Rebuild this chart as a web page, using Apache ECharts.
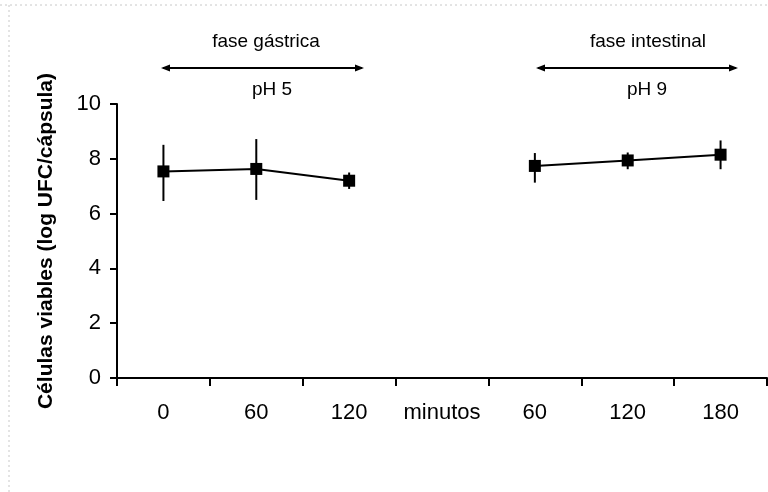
<!DOCTYPE html>
<html>
<head>
<meta charset="utf-8">
<script src="https://cdn.jsdelivr.net/npm/echarts@6/dist/echarts.min.js"></script>
<style>
  html, body { margin: 0; padding: 0; background: #fff; }
  #chart { width: 768px; height: 492px; }
</style>
</head>
<body>
<div id="chart"></div>
<script>
// Viable cells during simulated gastric / intestinal phase.
// Category "minutos" is a spacer between the two phases (no data).
const categories = ["0", "60", "120", "minutos", "60", "120", "180"];
const means  = [7.54, 7.63, 7.2, "-", 7.74, 7.94, 8.15];
const lows   = [6.46, 6.5, 6.9, null, 7.13, 7.62, 7.62];
const highs  = [8.51, 8.72, 7.5, null, 8.21, 8.23, 8.67];
const phaseTitles = ["fase gástrica", "fase intestinal"];
const phasePH = ["pH 5", "pH 9"];

const FONT = "Liberation Sans, Arial, sans-serif";

const errData = [];
lows.forEach((lo, i) => { if (lo != null) errData.push([i, lo, highs[i]]); });

const chart = echarts.init(document.getElementById("chart"));

// phase annotations (arrow + labels) above the plot, pixel-placed
const phases = [
  { x1: 161, x2: 364, cx: 266, px: 272 },
  { x1: 536, x2: 738, cx: 648, px: 647 },
];
const arrowY = 68;
const graphics = [];
phases.forEach((p, k) => {
  graphics.push({ type: "line", silent: true,
    shape: { x1: p.x1 + 2, y1: arrowY, x2: p.x2 - 2, y2: arrowY },
    style: { stroke: "#000", lineWidth: 2 } });
  graphics.push({ type: "polygon", silent: true,
    shape: { points: [[p.x1, arrowY], [p.x1 + 9, arrowY - 3.5], [p.x1 + 9, arrowY + 3.5]] },
    style: { fill: "#000" } });
  graphics.push({ type: "polygon", silent: true,
    shape: { points: [[p.x2, arrowY], [p.x2 - 9, arrowY - 3.5], [p.x2 - 9, arrowY + 3.5]] },
    style: { fill: "#000" } });
  graphics.push({ type: "text", silent: true, x: p.cx, y: 42,
    style: { text: phaseTitles[k], font: "19px " + FONT, fill: "#000", align: "center", verticalAlign: "middle" } });
  graphics.push({ type: "text", silent: true, x: p.px, y: 90,
    style: { text: phasePH[k], font: "19px " + FONT, fill: "#000", align: "center", verticalAlign: "middle" } });
});
// faint scan border (top / left)
graphics.push({ type: "line", silent: true, shape: { x1: 0, y1: 5, x2: 768, y2: 5 },
  style: { stroke: "#c8c8c8", lineWidth: 1, lineDash: [2, 3] } });
graphics.push({ type: "line", silent: true, shape: { x1: 9, y1: 5, x2: 9, y2: 492 },
  style: { stroke: "#c8c8c8", lineWidth: 1, lineDash: [2, 3] } });

chart.setOption({
  animation: false,
  backgroundColor: "#fff",
  grid: { left: 117, right: 1, top: 104, bottom: 114, containLabel: false },
  xAxis: {
    type: "category", data: categories, boundaryGap: true,
    axisLine: { lineStyle: { color: "#000", width: 2 } },
    axisTick: { show: true, length: 8, alignWithLabel: false, lineStyle: { color: "#000", width: 2 } },
    axisLabel: { color: "#000", fontSize: 22, fontFamily: FONT, margin: 24, interval: 0 },
    splitLine: { show: false },
  },
  yAxis: {
    type: "value", min: 0, max: 10, interval: 2,
    name: "Células viables (log UFC/cápsula)",
    nameLocation: "middle", nameRotate: 90, nameGap: 60,
    nameTextStyle: { color: "#000", fontSize: 21, fontWeight: "bold", fontFamily: FONT },
    axisLine: { show: true, lineStyle: { color: "#000", width: 2 } },
    axisTick: { show: true, length: 7, lineStyle: { color: "#000", width: 2 } },
    axisLabel: { color: "#000", fontSize: 22, fontFamily: FONT, margin: 16 },
    splitLine: { show: false },
  },
  graphic: graphics,
  series: [
    {
      type: "custom", name: "error",
      data: errData,
      renderItem: (params, api) => {
        const top = api.coord([api.value(0), api.value(2)]);
        const bot = api.coord([api.value(0), api.value(1)]);
        return { type: "line",
          shape: { x1: top[0], y1: top[1], x2: bot[0], y2: bot[1] },
          style: { stroke: "#000", lineWidth: 2 } };
      },
      z: 2,
    },
    {
      type: "line", name: "mean", data: means, connectNulls: false,
      symbol: "rect", symbolSize: 12, showSymbol: true,
      lineStyle: { color: "#000", width: 2 },
      itemStyle: { color: "#000" },
      z: 3,
    },
  ],
});
</script>
</body>
</html>
